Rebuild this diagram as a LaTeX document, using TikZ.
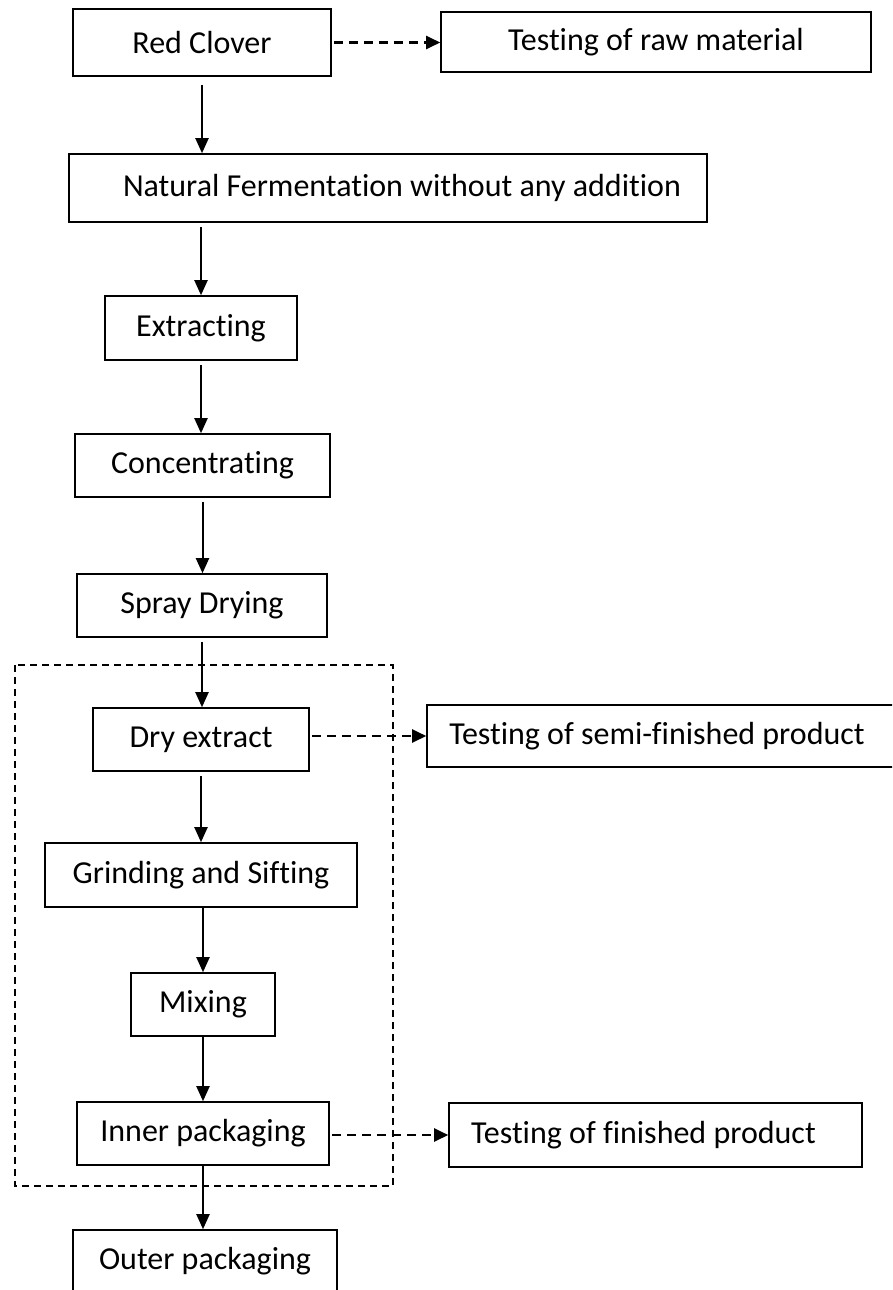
\documentclass[tikz,border=0pt]{standalone}
\usepackage{fontspec}
\setmainfont{Carlito}[RawFeature={-liga}]
\usetikzlibrary{arrows.meta}
\begin{document}
\begin{tikzpicture}[x=1pt,y=-1pt,
  box/.style={draw, line width=1.6pt, inner sep=0pt, font=\fontsize{32}{38}\selectfont},
  flow/.style={-{Triangle[length=15pt,width=13pt]}, line width=2pt, shorten <=4pt},
  testline/.style={-{Triangle[length=14pt,width=13pt]}, line width=2.2pt, dash pattern=on 9pt off 6pt, shorten <=2pt},
  group/.style={line width=1.5pt, dash pattern=on 7pt off 5pt}]
\clip (0,0) rectangle (892,1290);
\fill[white] (0,0) rectangle (892,1290);

\node[box, minimum width=258pt, minimum height=67pt] (rc) at (202,42.5) {Red Clover};
\node[box, minimum width=430pt, minimum height=60pt] (trm) at (656,42) {Testing of raw material};
\node[box, minimum width=638pt, minimum height=68pt] (nf) at (388,188) {\hspace*{28pt}Natural Fermentation without any addition};
\node[box, minimum width=192pt, minimum height=64pt] (ex) at (201,328) {Extracting};
\node[box, minimum width=255pt, minimum height=63pt] (co) at (202.5,465.5) {Concentrating};
\node[box, minimum width=250pt, minimum height=63pt] (sd) at (202,605.5) {Spray Drying};
\node[box, minimum width=216pt, minimum height=63pt] (de) at (201,739.5) {Dry extract};
\node[box, minimum width=468pt, minimum height=62pt] (tsf) at (661,736) {Testing of semi-finished product\hspace*{8pt}};
\node[box, minimum width=312pt, minimum height=64pt] (gs) at (201,875) {Grinding and Sifting};
\node[box, minimum width=144pt, minimum height=63pt] (mx) at (203,1004.5) {Mixing};
\node[box, minimum width=252pt, minimum height=63pt] (ip) at (203,1133.5) {Inner packaging};
\node[box, minimum width=413pt, minimum height=64pt] (tfp) at (655.5,1135) {Testing of finished product\hspace*{24pt}};
\node[box, minimum width=264pt, minimum height=63pt] (op) at (205,1261.5) {Outer packaging};

\draw[group] (15,665) rectangle (393,1186);

\draw[flow, shorten <=8pt] (rc.south) -- (rc.south |- nf.north);
\draw[flow] (ex.north |- nf.south) -- (ex.north);
\draw[flow] (ex.south) -- (ex.south |- co.north);
\draw[flow] (co.south) -- (co.south |- sd.north);
\draw[flow] (sd.south) -- (sd.south |- de.north);
\draw[flow] (de.south) -- (de.south |- gs.north);
\draw[flow, shorten <=0pt] (mx.north |- gs.south) -- (mx.north);
\draw[flow, shorten <=0pt] (mx.south) -- (mx.south |- ip.north);
\draw[flow, shorten <=0pt] (ip.south) -- (ip.south |- op.north);

\draw[testline] (rc.east) -- (rc.east -| trm.west);
\draw[testline] (de.east |- tsf.west) -- (tsf.west);
\draw[testline] (ip.east |- tfp.west) -- (tfp.west);
\end{tikzpicture}
\end{document}
